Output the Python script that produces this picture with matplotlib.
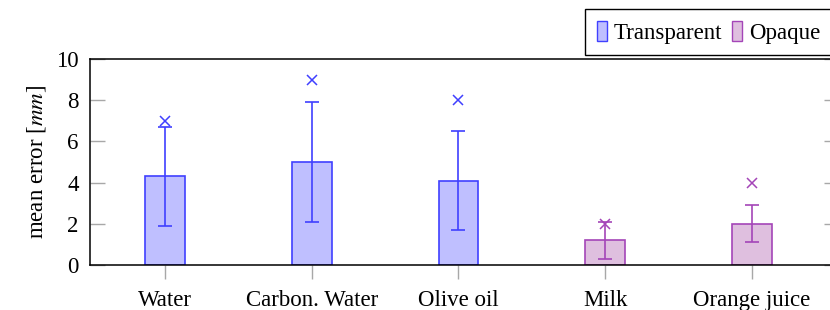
import matplotlib.pyplot as plt
from matplotlib.patches import Patch

plt.rcParams['font.family'] = ['Liberation Serif', 'DejaVu Serif']
plt.rcParams['mathtext.fontset'] = 'stix'
plt.rcParams['font.size'] = 16.5

# Datos
categorias = ["Water", "Carbon. Water", "Olive oil", "Milk", "Orange juice"]
grupo = ["Transparent", "Transparent", "Transparent", "Opaque", "Opaque"]
media = [4.3, 5.0, 4.1, 1.2, 2.0]
err_bajo = [1.9, 2.1, 1.7, 0.3, 1.1]
err_alto = [6.7, 7.9, 6.5, 2.1, 2.9]
maximo = [7.0, 9.0, 8.0, 2.0, 4.0]

COLORES = {
    "Transparent": {"fill": "#bfbfff", "edge": "#4040ff"},
    "Opaque": {"fill": "#dfbfdf", "edge": "#a445b8"},
}


def main():
    fig = plt.figure(figsize=(8.3, 3.1), dpi=100)
    ax = fig.add_axes([0.1084, 0.1452, 0.9024, 0.6645])

    for i, (cat, g) in enumerate(zip(categorias, grupo)):
        c = COLORES[g]
        ax.bar(i, media[i], width=0.27, color=c["fill"], edgecolor=c["edge"],
               linewidth=1.2, zorder=2)
        ax.errorbar(i, media[i],
                    yerr=[[media[i] - err_bajo[i]], [err_alto[i] - media[i]]],
                    fmt='none', ecolor=c["edge"], elinewidth=1.2,
                    capsize=4.7, capthick=1.2, zorder=3)
        ax.plot(i, maximo[i], marker='x', color=c["edge"], markersize=7,
                markeredgewidth=1.1, linestyle='none', zorder=4)

    ax.set_xlim(-0.511, 4.593)
    ax.set_ylim(0, 10)
    ax.set_xticks(range(len(categorias)))
    ax.set_xticklabels(categorias)
    ax.set_yticks([0, 2, 4, 6, 8, 10])

    ax.tick_params(axis='y', direction='in', length=10.8, width=1.0,
                   color='#a8a8a8', left=True, right=True, pad=8)
    ax.tick_params(axis='x', direction='out', length=10, width=1.0,
                   color='#a8a8a8', pad=8)

    for s in ax.spines.values():
        s.set_linewidth(1.1)

    ax.set_ylabel(r'mean error [$mm$]', labelpad=6)

    handles = [
        Patch(facecolor=COLORES["Transparent"]["fill"],
              edgecolor=COLORES["Transparent"]["edge"], label="Transparent"),
        Patch(facecolor=COLORES["Opaque"]["fill"],
              edgecolor=COLORES["Opaque"]["edge"], label="Opaque"),
    ]
    leg = ax.legend(handles=handles, ncol=2, loc='lower right',
                    bbox_to_anchor=(0.99, 1.019), borderaxespad=0,
                    handlelength=0.45, handleheight=0.95, handletextpad=0.3,
                    columnspacing=0.4, fancybox=False, framealpha=1,
                    edgecolor='black', borderpad=0.5)
    leg.get_frame().set_linewidth(1.0)

    fig.savefig("out.png", dpi=100)


if __name__ == "__main__":
    main()
